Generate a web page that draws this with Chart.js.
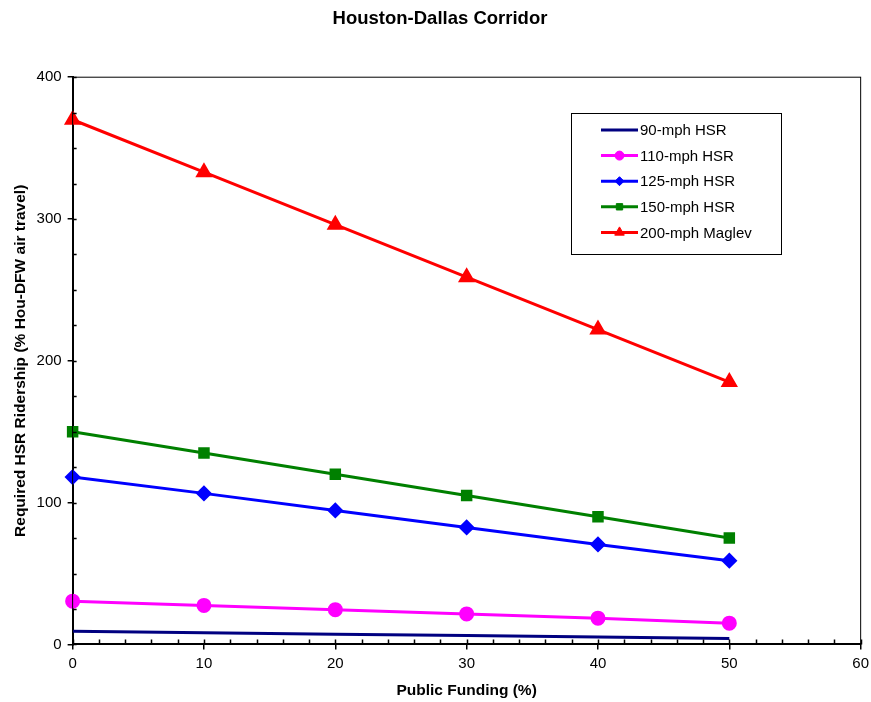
<!DOCTYPE html>
<html>
<head>
<meta charset="utf-8">
<script src="https://cdn.jsdelivr.net/npm/chart.js@4"></script>
<style>
  html, body { margin: 0; padding: 0; background: #fff; }
  #wrap { width: 871px; height: 702px; }
</style>
</head>
<body>
<div id="wrap"><canvas id="chart" width="871" height="702"></canvas></div>
<script>
const funding = [0, 10, 20, 30, 40, 50];

const hsr90 = [9.2, 8.2, 7.2, 6.2, 5.2, 4.2];
const hsr110 = [30.5, 27.5, 24.5, 21.5, 18.5, 15];
const hsr125 = [118, 106.5, 94.5, 82.5, 70.5, 59];
const hsr150 = [150, 135, 120, 105, 90, 75];
const maglev200 = [370, 333, 296, 259, 222, 185];

const seriesNames = ["90-mph HSR", "110-mph HSR", "125-mph HSR", "150-mph HSR", "200-mph Maglev"];

const FONT = "'Liberation Sans', Arial, sans-serif";

function pts(vals) {
    return vals.map((v, i) => ({ x: funding[i], y: v }));
}

// axis box, minor ticks, and in-plot legend
const decor = {
    id: "decor",
    afterDraw(c) {
        const ctx = c.ctx;
        const a = c.chartArea;
        const xs = c.scales.x, ys = c.scales.y;
        ctx.save();
        ctx.strokeStyle = "#000";
        ctx.lineWidth = 1;
        ctx.strokeRect(a.left, a.top, a.right - a.left, a.bottom - a.top);

        ctx.lineWidth = 1.5;
        ctx.beginPath();
        for (let v = 0; v <= 400; v += 25) {
            const y = Math.round(ys.getPixelForValue(v)) + 0.5;
            ctx.moveTo(a.left, y);
            ctx.lineTo(a.left + 4, y);
        }
        for (let v = 0; v <= 60; v += 2) {
            const x = Math.round(xs.getPixelForValue(v)) + 0.5;
            ctx.moveTo(x, a.bottom);
            ctx.lineTo(x, a.bottom - 5);
        }
        ctx.stroke();

        // legend box
        const lx = 571, ly = 113, lw = 210, lh = 141;
        ctx.lineWidth = 1;
        ctx.strokeStyle = "#000";
        ctx.fillStyle = "#fff";
        ctx.fillRect(lx, ly, lw, lh);
        ctx.strokeRect(lx + 0.5, ly + 0.5, lw, lh);
        ctx.font = "15px " + FONT;
        ctx.textBaseline = "middle";
        c.data.datasets.forEach((ds, i) => {
            const y = 130 + i * 25.6;
            ctx.strokeStyle = ds.borderColor;
            ctx.lineWidth = 3;
            ctx.beginPath();
            ctx.moveTo(601, y);
            ctx.lineTo(638, y);
            ctx.stroke();
            if (ds.pointRadius > 0) {
                ctx.fillStyle = ds.borderColor;
                ctx.lineWidth = 1;
                Chart.helpers.drawPoint(ctx, {
                    pointStyle: ds.pointStyle,
                    radius: ds.pointRadius - 1.5,
                    borderWidth: 1
                }, 619.5, y);
            }
            ctx.fillStyle = "#000";
            ctx.fillText(ds.label, 640, y + 1);
        });
        ctx.restore();
    }
};

function series(label, vals, color, style, radius) {
    return {
        label: label,
        data: pts(vals),
        borderColor: color,
        backgroundColor: color,
        pointBackgroundColor: color,
        pointBorderColor: color,
        borderWidth: 3,
        pointStyle: style,
        pointRadius: radius,
        pointHoverRadius: radius,
        tension: 0,
        clip: false
    };
}

new Chart(document.getElementById("chart"), {
    type: "line",
    data: {
        datasets: [
            series(seriesNames[0], hsr90, "#000080", "circle", 0),
            series(seriesNames[1], hsr110, "#FF00FF", "circle", 6),
            series(seriesNames[2], hsr125, "#0000FF", "rectRot", 6),
            series(seriesNames[3], hsr150, "#008000", "rect", 6),
            series(seriesNames[4], maglev200, "#FF0000", "triangle", 7)
        ]
    },
    options: {
        responsive: false,
        animation: false,
        layout: { padding: { left: 9, right: 0, top: 0, bottom: 0 } },
        plugins: {
            legend: { display: false },
            tooltip: { enabled: false },
            title: {
                display: true,
                text: "Houston-Dallas Corridor",
                color: "#000",
                font: { family: FONT, size: 18.5, weight: "bold" },
                padding: { top: 8, bottom: 47 }
            }
        },
        scales: {
            x: {
                type: "linear",
                min: 0,
                max: 60,
                afterFit: s => { s.paddingRight = Math.max(0, s.paddingRight - 3); },
                ticks: { stepSize: 10, color: "#000", font: { family: FONT, size: 15 }, padding: 5 },
                grid: { drawOnChartArea: false, color: "#000", tickLength: 5, lineWidth: 1.5 },
                border: { color: "#000", width: 2 },
                title: {
                    display: true,
                    text: "Public Funding (%)",
                    color: "#000",
                    font: { family: FONT, size: 15.5, weight: "bold" },
                    padding: { top: 4, bottom: 2 }
                }
            },
            y: {
                min: 0,
                max: 400,
                ticks: { stepSize: 100, color: "#000", font: { family: FONT, size: 15 }, padding: 6 },
                grid: { drawOnChartArea: false, color: "#000", tickLength: 5, lineWidth: 1.5 },
                border: { color: "#000", width: 2 },
                title: {
                    display: true,
                    text: "Required HSR Ridership (% Hou-DFW air travel)",
                    color: "#000",
                    font: { family: FONT, size: 15.5, weight: "bold" },
                    padding: { top: 2, bottom: 1 }
                }
            }
        }
    },
    plugins: [decor]
});
</script>
</body>
</html>
